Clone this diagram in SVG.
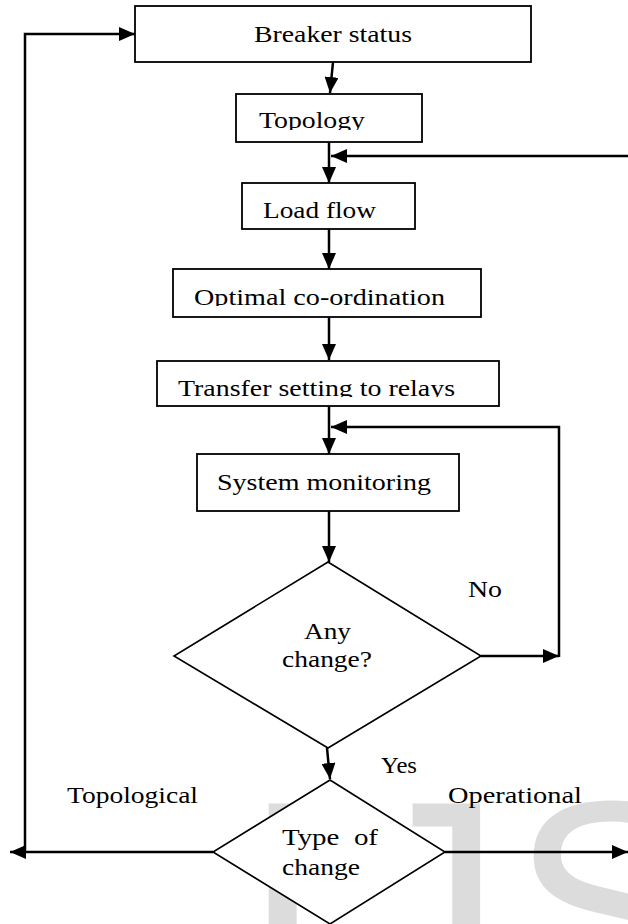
<svg xmlns="http://www.w3.org/2000/svg" width="628" height="924" viewBox="0 0 628 924">
<style>
.box{fill:#fff;stroke:#000;stroke-width:1.8}
.dia{fill:#fff;stroke:#000;stroke-width:1.6}
.t{font-family:"Liberation Serif","Times New Roman",serif;font-size:24px;fill:#000}
.c{fill:none;stroke:#000;stroke-width:2.5}
.wm{font-family:"Liberation Sans",Arial,sans-serif;font-size:300px;fill:#dcdcdc}
</style>
<defs>
<marker id="ah" markerUnits="userSpaceOnUse" markerWidth="16" markerHeight="14" refX="16" refY="7" orient="auto">
<path d="M0,0 L16,7 L0,14 z" fill="#000"/>
</marker>
<clipPath id="clTop"><rect x="230" y="90" width="200" height="40"/></clipPath>
<clipPath id="clOpt"><rect x="170" y="270" width="310" height="36"/></clipPath>
<clipPath id="clTr"><rect x="155" y="362" width="340" height="35"/></clipPath>
<clipPath id="clCh"><rect x="270" y="850" width="120" height="30"/></clipPath>
</defs>
<rect width="628" height="924" fill="#fff"/>
<text class="wm" x="241" y="1010">I<tspan dx="28">J</tspan><tspan dx="8">S</tspan></text>
<g id="connectors">
<path class="c" d="M333,62 L330,93" marker-end="url(#ah)"/>
<path class="c" d="M329,142 L329,183" marker-end="url(#ah)"/>
<path class="c" d="M628,156 L331,156" marker-end="url(#ah)"/>
<path class="c" d="M329,229 L329,269" marker-end="url(#ah)"/>
<path class="c" d="M329,317 L329,360" marker-end="url(#ah)"/>
<path class="c" d="M329,406 L329,454" marker-end="url(#ah)"/>
<path class="c" d="M559,657 L559,427 L331,427" marker-end="url(#ah)"/>
<path class="c" d="M329,511 L329,562" marker-end="url(#ah)"/>
<path class="c" d="M481,656 L559,656" marker-end="url(#ah)"/>
<path class="c" d="M327,748 L330,779" marker-end="url(#ah)"/>
<path class="c" d="M213,852 L10,852" marker-end="url(#ah)"/>
<path class="c" d="M25,852 L25,34 L135,34" marker-end="url(#ah)"/>
<path class="c" d="M445,852 L628,852" marker-end="url(#ah)"/>
</g>
<g id="breaker">
<rect class="box" x="135" y="6" width="396" height="56"/>
<text class="t" x="254" y="42" textLength="158" lengthAdjust="spacingAndGlyphs">Breaker status</text>
</g>
<g id="topology">
<rect class="box" x="236" y="94" width="186" height="48"/>
<text class="t" x="259" y="128" textLength="106" lengthAdjust="spacingAndGlyphs" clip-path="url(#clTop)">Topology</text>
</g>
<g id="loadflow">
<rect class="box" x="242" y="183" width="173" height="46"/>
<text class="t" x="263" y="218" textLength="113" lengthAdjust="spacingAndGlyphs">Load flow</text>
</g>
<g id="optimal">
<rect class="box" x="173" y="269" width="308" height="48"/>
<text class="t" x="194" y="305" textLength="251" lengthAdjust="spacingAndGlyphs" clip-path="url(#clOpt)">Optimal co-ordination</text>
</g>
<g id="transfer">
<rect class="box" x="157" y="361" width="342" height="45"/>
<text class="t" x="178" y="396" textLength="277" lengthAdjust="spacingAndGlyphs" clip-path="url(#clTr)">Transfer setting to relays</text>
</g>
<g id="monitoring">
<rect class="box" x="197" y="454" width="262" height="57"/>
<text class="t" x="217" y="490" textLength="214" lengthAdjust="spacingAndGlyphs">System monitoring</text>
</g>
<g id="anychange">
<polygon class="dia" points="328,562 481,656 328,748 174,656"/>
<text class="t" x="304" y="639" textLength="47" lengthAdjust="spacingAndGlyphs">Any</text>
<text class="t" x="282" y="667" textLength="90" lengthAdjust="spacingAndGlyphs">change?</text>
</g>
<g id="typeofchange">
<polygon class="dia" points="330,780 445,852 330,924 213,852"/>
<text class="t" x="282" y="845" textLength="96" lengthAdjust="spacingAndGlyphs" xml:space="preserve">Type  of</text>
<text class="t" x="282" y="875" textLength="78" lengthAdjust="spacingAndGlyphs" clip-path="url(#clCh)">change</text>
</g>
<g id="labels">
<text class="t" x="468" y="597" textLength="34" lengthAdjust="spacingAndGlyphs">No</text>
<text class="t" x="381" y="773" textLength="36" lengthAdjust="spacingAndGlyphs">Yes</text>
<text class="t" x="67" y="803" textLength="131" lengthAdjust="spacingAndGlyphs">Topological</text>
<text class="t" x="448" y="803" textLength="134" lengthAdjust="spacingAndGlyphs">Operational</text>
</g>
</svg>
